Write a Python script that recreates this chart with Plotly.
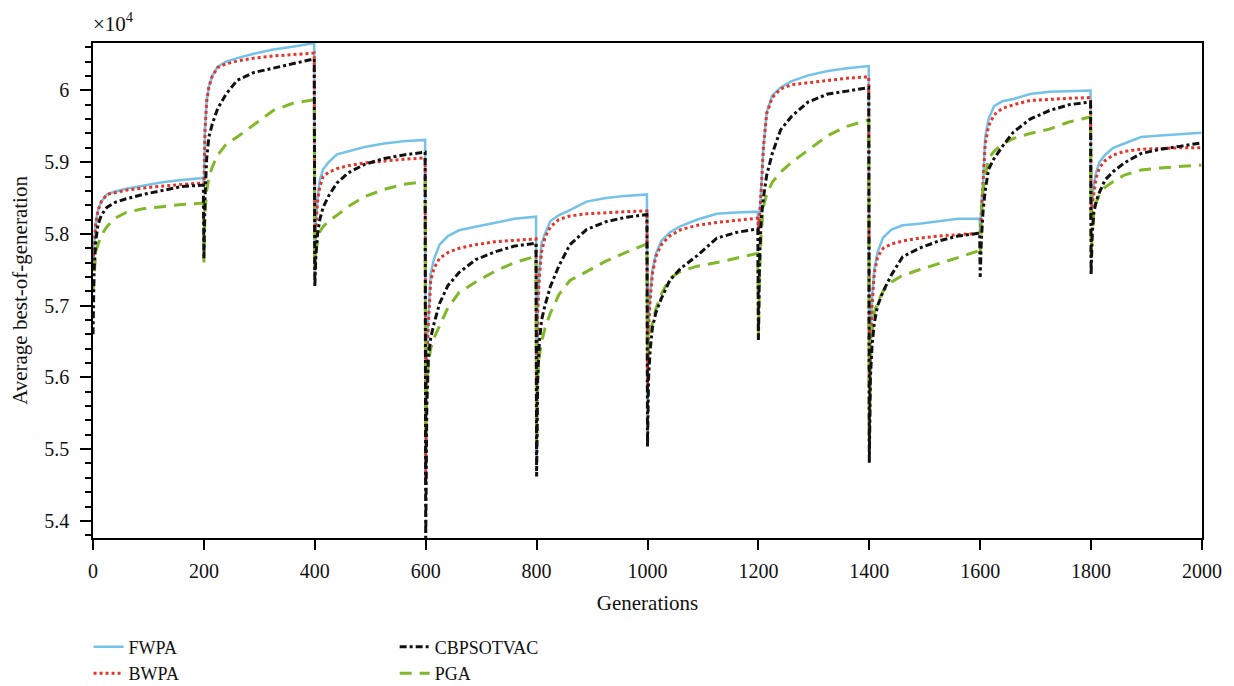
import plotly.graph_objects as go

# Generation at which each restart segment begins, and sample offsets within each segment
seg_starts = [0, 200, 400, 600, 800, 1000, 1200, 1400, 1600, 1800]
offsets = [0, 2, 5, 9, 15, 25, 40, 60, 90, 125, 160, 199]

# Average best-of-generation (x10^4), one row per segment, one value per offset
fwpa = [
    [5.76, 5.79, 5.815, 5.833, 5.845, 5.855, 5.859, 5.863, 5.867, 5.872, 5.875, 5.878],
    [5.865, 5.945, 5.985, 6.005, 6.02, 6.033, 6.04, 6.045, 6.051, 6.057, 6.061, 6.066],
    [5.74, 5.82, 5.85, 5.875, 5.89, 5.90, 5.911, 5.915, 5.921, 5.926, 5.929, 5.931],
    [5.45, 5.64, 5.685, 5.745, 5.765, 5.785, 5.797, 5.805, 5.81, 5.816, 5.821, 5.824],
    [5.49, 5.70, 5.75, 5.787, 5.80, 5.818, 5.826, 5.833, 5.845, 5.85, 5.853, 5.855],
    [5.569, 5.68, 5.72, 5.75, 5.772, 5.79, 5.802, 5.811, 5.82, 5.828, 5.83, 5.831],
    [5.80, 5.82, 5.86, 5.92, 5.97, 5.993, 6.004, 6.013, 6.021, 6.027, 6.031, 6.034],
    [5.51, 5.65, 5.71, 5.75, 5.775, 5.795, 5.806, 5.812, 5.814, 5.818, 5.821, 5.821],
    [5.80, 5.84, 5.87, 5.935, 5.96, 5.978, 5.985, 5.988, 5.995, 5.998, 5.999, 6.0],
    [5.83, 5.85, 5.87, 5.885, 5.90, 5.91, 5.92, 5.926, 5.935, 5.937, 5.939, 5.941],
]
bwpa = [
    [5.76, 5.79, 5.815, 5.833, 5.845, 5.855, 5.858, 5.861, 5.864, 5.867, 5.869, 5.871],
    [5.865, 5.945, 5.985, 6.005, 6.02, 6.032, 6.037, 6.041, 6.045, 6.048, 6.05, 6.052],
    [5.745, 5.81, 5.845, 5.865, 5.88, 5.886, 5.891, 5.895, 5.899, 5.902, 5.904, 5.906],
    [5.45, 5.63, 5.68, 5.735, 5.752, 5.766, 5.774, 5.78, 5.785, 5.789, 5.791, 5.793],
    [5.50, 5.69, 5.74, 5.775, 5.795, 5.81, 5.82, 5.825, 5.828, 5.83, 5.831, 5.832],
    [5.58, 5.67, 5.71, 5.745, 5.768, 5.785, 5.797, 5.806, 5.812, 5.816, 5.819, 5.822],
    [5.80, 5.82, 5.86, 5.92, 5.968, 5.99, 6.002, 6.008, 6.011, 6.014, 6.017, 6.019],
    [5.51, 5.64, 5.70, 5.745, 5.768, 5.78, 5.786, 5.79, 5.794, 5.797, 5.799, 5.801],
    [5.80, 5.83, 5.86, 5.925, 5.95, 5.966, 5.975, 5.98, 5.986, 5.988, 5.989, 5.99],
    [5.82, 5.84, 5.86, 5.878, 5.892, 5.902, 5.91, 5.915, 5.918, 5.919, 5.92, 5.92],
]
cbpsotvac = [
    [5.66, 5.75, 5.79, 5.813, 5.826, 5.837, 5.844, 5.849, 5.855, 5.86, 5.866, 5.868],
    [5.765, 5.85, 5.905, 5.935, 5.953, 5.975, 5.995, 6.014, 6.025, 6.031, 6.037, 6.044],
    [5.726, 5.77, 5.80, 5.82, 5.837, 5.853, 5.871, 5.885, 5.897, 5.905, 5.91, 5.914],
    [5.37, 5.56, 5.629, 5.655, 5.675, 5.703, 5.728, 5.746, 5.764, 5.775, 5.783, 5.787],
    [5.462, 5.60, 5.65, 5.68, 5.70, 5.727, 5.755, 5.785, 5.806, 5.817, 5.823, 5.827],
    [5.503, 5.60, 5.64, 5.67, 5.69, 5.71, 5.735, 5.752, 5.77, 5.794, 5.802, 5.807],
    [5.652, 5.76, 5.82, 5.85, 5.882, 5.912, 5.945, 5.964, 5.984, 5.995, 5.999, 6.004],
    [5.481, 5.60, 5.645, 5.676, 5.70, 5.72, 5.743, 5.768, 5.78, 5.79, 5.797, 5.801],
    [5.74, 5.79, 5.83, 5.86, 5.89, 5.905, 5.922, 5.942, 5.96, 5.972, 5.98, 5.984],
    [5.743, 5.80, 5.83, 5.845, 5.858, 5.875, 5.887, 5.899, 5.912, 5.918, 5.922, 5.927],
]
pga = [
    [5.72, 5.75, 5.775, 5.785, 5.798, 5.81, 5.822, 5.83, 5.835, 5.838, 5.841, 5.843],
    [5.76, 5.83, 5.86, 5.878, 5.893, 5.91, 5.925, 5.935, 5.952, 5.972, 5.982, 5.987],
    [5.75, 5.775, 5.79, 5.803, 5.81, 5.818, 5.826, 5.838, 5.852, 5.862, 5.869, 5.873],
    [5.515, 5.59, 5.62, 5.64, 5.655, 5.672, 5.697, 5.718, 5.733, 5.748, 5.76, 5.769],
    [5.50, 5.60, 5.63, 5.65, 5.668, 5.69, 5.715, 5.735, 5.748, 5.762, 5.774, 5.786],
    [5.634, 5.65, 5.665, 5.676, 5.695, 5.716, 5.738, 5.748, 5.755, 5.76, 5.766, 5.773],
    [5.66, 5.74, 5.80, 5.838, 5.855, 5.872, 5.886, 5.90, 5.917, 5.937, 5.95, 5.959],
    [5.517, 5.62, 5.66, 5.69, 5.705, 5.72, 5.733, 5.742, 5.75, 5.758, 5.767, 5.777],
    [5.77, 5.82, 5.86, 5.88, 5.905, 5.915, 5.925, 5.933, 5.94, 5.946, 5.956, 5.963],
    [5.768, 5.80, 5.83, 5.843, 5.855, 5.865, 5.873, 5.882, 5.889, 5.892, 5.894, 5.896],
]

y_ticks = [5.4, 5.5, 5.6, 5.7, 5.8, 5.9, 6.0]
y_tick_text = ["5.4", "5.5", "5.6", "5.7", "5.8", "5.9", "6"]
x_ticks = [0, 200, 400, 600, 800, 1000, 1200, 1400, 1600, 1800, 2000]

FONT = "Liberation Serif"


def flatten(rows):
    xs, ys = [], []
    for s, row in zip(seg_starts, rows):
        for o, v in zip(offsets, row):
            xs.append(s + o)
            ys.append(v)
    return xs, ys


fig = go.Figure()
series = [
    ("FWPA", fwpa, dict(color="#74c2e8", width=2.5, dash="solid"), "legend"),
    ("BWPA", bwpa, dict(color="#e5342a", width=3, dash="dot"), "legend"),
    ("PGA", pga, dict(color="#80b928", width=3, dash="12px,8px"), "legend2"),
    ("CBPSOTVAC", cbpsotvac, dict(color="#111111", width=3, dash="7px,3px,3px,3px"), "legend2"),
]
ranks = {"FWPA": 1, "BWPA": 2, "CBPSOTVAC": 3, "PGA": 4}
for name, rows, line, lg in series:
    xs, ys = flatten(rows)
    fig.add_trace(go.Scatter(x=xs, y=ys, mode="lines", name=name, line=line,
                             legend=lg, legendrank=ranks[name]))

fig.update_layout(
    width=1234, height=686,
    margin=dict(l=85, r=40, t=35, b=156, autoexpand=False),
    plot_bgcolor="white", paper_bgcolor="white",
    font=dict(family=FONT, size=20, color="#111"),
    legend=dict(x=-0.004, y=-0.183, xanchor="left", yanchor="top",
                font=dict(size=18), bgcolor="rgba(0,0,0,0)", tracegroupgap=0),
    legend2=dict(x=0.272, y=-0.183, xanchor="left", yanchor="top",
                 font=dict(size=18), bgcolor="rgba(0,0,0,0)", tracegroupgap=0),
    annotations=[dict(text="×10<sup>4</sup>", xref="paper", yref="paper",
                      x=-0.002, y=1.0, xanchor="left", yanchor="bottom", yshift=5,
                      showarrow=False, font=dict(size=21))],
)
fig.update_xaxes(range=[0, 2000], tickvals=x_ticks, ticks="outside", ticklen=10,
                 tickwidth=1.5, tickcolor="black", showline=True, linecolor="black",
                 linewidth=1.5, mirror=True, showgrid=False, zeroline=False,
                 ticklabelstandoff=4, automargin=False,
                 title=dict(text="Generations", font=dict(size=21), standoff=15))
fig.update_yaxes(range=[5.3761, 6.0661], tickvals=y_ticks, ticktext=y_tick_text,
                 ticks="outside", ticklen=11, tickwidth=1.5, tickcolor="black",
                 minor=dict(dtick=0.02, tick0=5.4, ticks="outside", ticklen=6,
                            tickwidth=1.5, tickcolor="black", showgrid=False),
                 showline=True, linecolor="black", linewidth=1.5, mirror=True,
                 showgrid=False, zeroline=False, ticklabelstandoff=7, automargin=False,
                 title=dict(text="Average best-of-generation", font=dict(size=21), standoff=14))

fig.write_html("out.html")
